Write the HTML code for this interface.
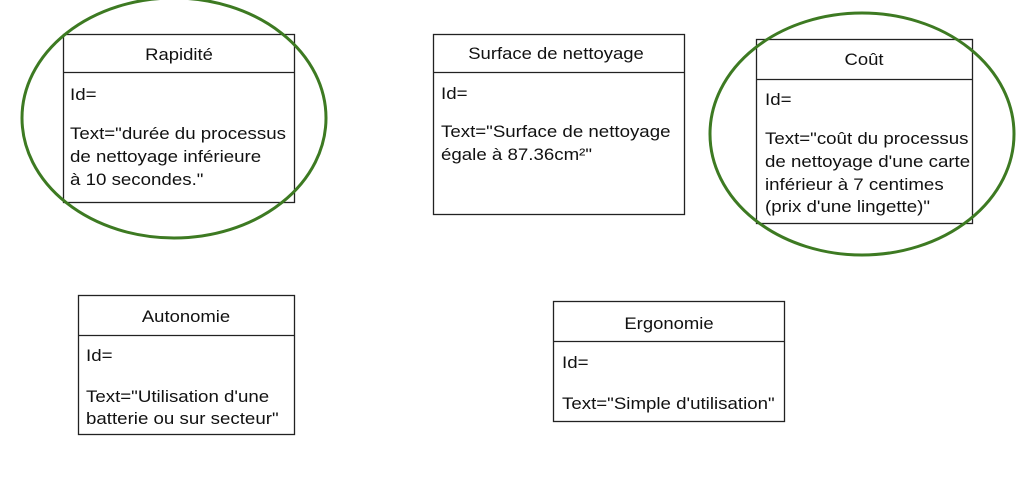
<!DOCTYPE html>
<html><head><meta charset="utf-8"><style>
html,body{margin:0;padding:0;background:#fff;}
svg{display:block;}
text{font-family:"Liberation Sans",Arial,sans-serif;font-size:17px;fill:#111;}
text.h{font-size:16.8px;text-anchor:middle;}
.b{fill:#fff;stroke:#222;stroke-width:1.3;}
.l{stroke:#222;stroke-width:1.3;}
.e{fill:none;stroke:#3d7a22;stroke-width:3;}
</style></head><body>
<svg width="1027" height="502" viewBox="0 0 1027 502" xmlns="http://www.w3.org/2000/svg">
<!-- Rapidité -->
<rect class="b" x="63.5" y="34.5" width="231" height="168"/>
<line class="l" x1="63.5" y1="72.5" x2="294.5" y2="72.5"/>
<text class="h" transform="translate(179,60) scale(1.1,1)">Rapidité</text>
<text transform="translate(70,100) scale(1.1,1)">Id=</text>
<text transform="translate(70,139) scale(1.1,1)">Text="durée du processus</text>
<text transform="translate(70,162) scale(1.1,1)">de nettoyage inférieure</text>
<text transform="translate(70,185) scale(1.1,1)">à 10 secondes."</text>
<ellipse class="e" cx="174" cy="118" rx="152" ry="120"/>
<!-- Surface -->
<rect class="b" x="433.5" y="34.5" width="251" height="180"/>
<line class="l" x1="433.5" y1="72.5" x2="684.5" y2="72.5"/>
<text class="h" transform="translate(556,59) scale(1.1,1)">Surface de nettoyage</text>
<text transform="translate(441,99) scale(1.1,1)">Id=</text>
<text transform="translate(441,137) scale(1.1,1)">Text="Surface de nettoyage</text>
<text transform="translate(441,160) scale(1.1,1)">égale à 87.36cm²"</text>
<!-- Coût -->
<rect class="b" x="756.5" y="39.5" width="216" height="184"/>
<line class="l" x1="756.5" y1="79.5" x2="972.5" y2="79.5"/>
<text class="h" transform="translate(864,65) scale(1.1,1)">Coût</text>
<text transform="translate(765,105) scale(1.1,1)">Id=</text>
<text transform="translate(765,144) scale(1.1,1)">Text="coût du processus</text>
<text transform="translate(765,167) scale(1.1,1)">de nettoyage d'une carte</text>
<text transform="translate(765,190) scale(1.1,1)">inférieur à 7 centimes</text>
<text transform="translate(765,212) scale(1.1,1)">(prix d'une lingette)"</text>
<ellipse class="e" cx="862" cy="134" rx="152" ry="121"/>
<!-- Autonomie -->
<rect class="b" x="78.5" y="295.5" width="216" height="139"/>
<line class="l" x1="78.5" y1="335.5" x2="294.5" y2="335.5"/>
<text class="h" transform="translate(186,322) scale(1.1,1)">Autonomie</text>
<text transform="translate(86,361) scale(1.1,1)">Id=</text>
<text transform="translate(86,402) scale(1.1,1)">Text="Utilisation d'une</text>
<text transform="translate(86,424) scale(1.1,1)">batterie ou sur secteur"</text>
<!-- Ergonomie -->
<rect class="b" x="553.5" y="301.5" width="231" height="120"/>
<line class="l" x1="553.5" y1="341.5" x2="784.5" y2="341.5"/>
<text class="h" transform="translate(669,329) scale(1.1,1)">Ergonomie</text>
<text transform="translate(562,368) scale(1.1,1)">Id=</text>
<text transform="translate(562,409) scale(1.1,1)">Text="Simple d'utilisation"</text>
</svg>
</body></html>
